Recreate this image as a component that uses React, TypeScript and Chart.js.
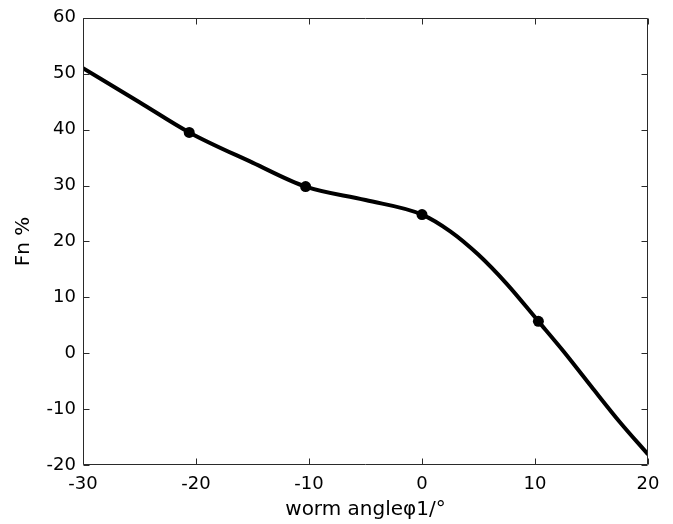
import React, { useEffect, useRef } from "react";
import { Chart, registerables } from "chart.js";

Chart.register(...registerables);

// Curve (worm angle φ1 in degrees -> Fn %)
const curveX = [-30, -25, -20.6, -15, -10.3, -5, 0, 2.5, 5, 7.5, 10.3, 12.5, 15, 17.5, 20];
const curveY = [51, 44.9, 39.5, 34.1, 29.8, 27.4, 24.8, 21.8, 17.6, 12.4, 5.7, 0.4, -6.0, -12.3, -18.1];

// Marked data points
const markX = [-20.6, -10.3, 0, 10.3];
const markY = [39.5, 29.8, 24.8, 5.7];

const xTicks = [-30, -20, -10, 0, 10, 20];
const yTicks = [-20, -10, 0, 10, 20, 30, 40, 50, 60];

const FONT = "'DejaVu Sans', 'Liberation Sans', Arial, sans-serif";

const framePlugin = {
  id: "matlabFrame",
  afterDatasetsDraw(chart: any) {
    const { ctx, chartArea } = chart;
    const xs = chart.scales.x;
    const ys = chart.scales.y;
    const L = Math.round(chartArea.left) + 0.5;
    const R = Math.round(chartArea.right) - 0.5;
    const T = Math.round(chartArea.top) + 0.5;
    const B = Math.round(chartArea.bottom) - 0.5;
    const len = 6;
    ctx.save();
    ctx.strokeStyle = "#2a2a2a";
    ctx.lineWidth = 1;
    ctx.beginPath();
    ctx.rect(L, T, R - L, B - T);
    ctx.stroke();
    ctx.beginPath();
    xTicks.forEach((v) => {
      const px = Math.round(xs.getPixelForValue(v)) + 0.5;
      ctx.moveTo(px, B);
      ctx.lineTo(px, B - len);
      ctx.moveTo(px, T);
      ctx.lineTo(px, T + len);
    });
    yTicks.forEach((v) => {
      const py = Math.round(ys.getPixelForValue(v)) + 0.5;
      ctx.moveTo(L, py);
      ctx.lineTo(L + len, py);
      ctx.moveTo(R, py);
      ctx.lineTo(R - len, py);
    });
    ctx.stroke();
    ctx.restore();
  },
};

export default function App() {
  const ref = useRef<HTMLCanvasElement | null>(null);

  useEffect(() => {
    if (!ref.current) return;
    const chart = new Chart(ref.current, {
      type: "scatter",
      data: {
        datasets: [
          {
            data: curveX.map((x, i) => ({ x, y: curveY[i] })),
            showLine: true,
            borderColor: "#000",
            borderWidth: 4,
            pointRadius: 0,
            cubicInterpolationMode: "monotone",
            borderCapStyle: "butt",
            borderJoinStyle: "round",
            order: 2,
          } as any,
          {
            data: markX.map((x, i) => ({ x, y: markY[i] })),
            showLine: false,
            pointRadius: 5.5,
            pointBackgroundColor: "#000",
            pointBorderColor: "#000",
            pointBorderWidth: 0,
            order: 1,
          } as any,
        ],
      },
      options: {
        responsive: false,
        animation: false,
        layout: { padding: { top: 15, right: 25, left: 0, bottom: 0 } },
        plugins: { legend: { display: false }, tooltip: { enabled: false } },
        scales: {
          x: {
            type: "linear",
            min: -30,
            max: 20,
            grid: { display: false, drawTicks: false },
            border: { display: false },
            afterBuildTicks: (axis: any) => {
              axis.ticks = xTicks.map((v) => ({ value: v }));
            },
            afterFit: (axis: any) => {
              axis.height = 59;
            },
            ticks: {
              color: "#000",
              font: { family: FONT, size: 18 },
              padding: 9,
              maxRotation: 0,
              autoSkip: false,
            },
            title: {
              display: true,
              text: "worm angleφ1/°",
              color: "#000",
              font: { family: FONT, size: 20 },
              padding: { top: 0, bottom: 2 },
            },
          },
          y: {
            type: "linear",
            min: -20,
            max: 60,
            grid: { display: false, drawTicks: false },
            border: { display: false },
            afterBuildTicks: (axis: any) => {
              axis.ticks = yTicks.map((v) => ({ value: v }));
            },
            afterFit: (axis: any) => {
              axis.width = 83;
            },
            ticks: {
              color: "#000",
              font: { family: FONT, size: 18 },
              padding: 7,
              autoSkip: false,
            },
            title: {
              display: true,
              text: "Fn %",
              color: "#000",
              font: { family: FONT, size: 20 },
              padding: { top: 12, bottom: 0 },
            },
          },
        },
      },
      plugins: [framePlugin],
    });
    return () => chart.destroy();
  }, []);

  return (
    <div style={{ position: "absolute", left: 0, top: 0, width: 673, height: 524, background: "#fff" }}>
      <canvas ref={ref} width={673} height={524} style={{ display: "block" }} />
    </div>
  );
}
